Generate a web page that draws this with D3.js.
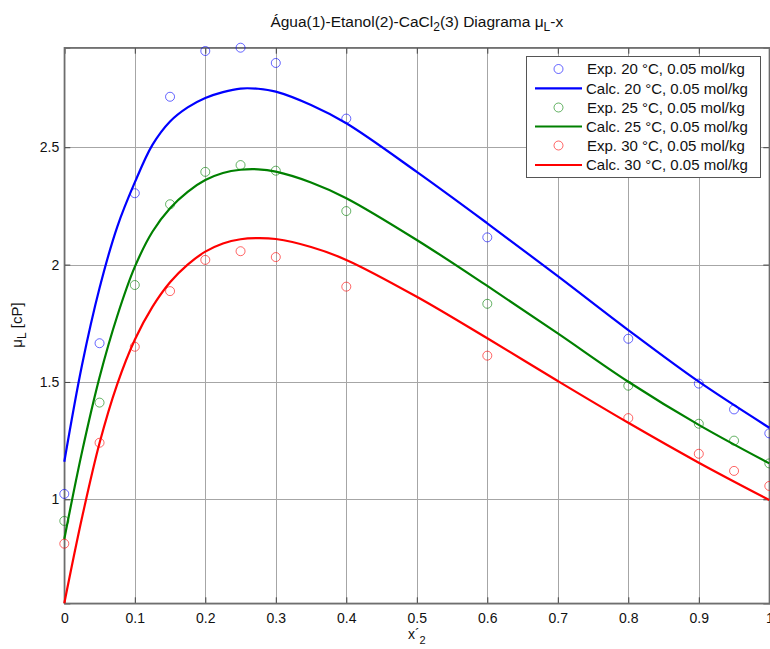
<!DOCTYPE html>
<html>
<head>
<meta charset="utf-8">
<script src="https://cdn.jsdelivr.net/npm/d3@7"></script>
<style>
  html, body { margin: 0; padding: 0; background: #fff; }
  svg { display: block; font-family: "Liberation Sans", Arial, Helvetica, sans-serif; }
</style>
</head>
<body>
<svg id="chart" width="770" height="649"></svg>
<script>
// Mole fractions of ethanol (salt-free basis) for the measured points
const expX = [0, 0.05, 0.1, 0.15, 0.2, 0.25, 0.3, 0.4, 0.6, 0.8, 0.9, 0.95, 1.0];
// Measured viscosities [cP]
const exp20 = [1.023, 1.665, 2.304, 2.715, 2.910, 2.924, 2.859, 2.622, 2.116, 1.684, 1.493, 1.383, 1.281];
const exp25 = [0.908, 1.412, 1.913, 2.257, 2.395, 2.424, 2.400, 2.228, 1.833, 1.484, 1.322, 1.250, 1.153];
const exp30 = [0.811, 1.241, 1.650, 1.887, 2.020, 2.057, 2.032, 1.906, 1.612, 1.346, 1.194, 1.121, 1.057];

// Model curves [x, mu]
const calc20 = [[0, 1.160], [0.025, 1.57], [0.05, 1.90], [0.075, 2.16], [0.1, 2.35], [0.125, 2.51], [0.15, 2.61],
  [0.175, 2.67], [0.2, 2.71], [0.225, 2.735], [0.25, 2.750], [0.275, 2.749], [0.3, 2.737], [0.35, 2.68],
  [0.4, 2.602], [0.5, 2.395], [0.6, 2.176], [0.7, 1.951], [0.8, 1.721], [0.9, 1.501], [1.0, 1.305]];
const calc25 = [[0, 0.831], [0.025, 1.20], [0.05, 1.52], [0.075, 1.78], [0.1, 1.99], [0.125, 2.14], [0.15, 2.24],
  [0.175, 2.31], [0.2, 2.36], [0.225, 2.39], [0.25, 2.404], [0.275, 2.406], [0.3, 2.396], [0.35, 2.35],
  [0.4, 2.283], [0.5, 2.105], [0.6, 1.909], [0.7, 1.707], [0.8, 1.501], [0.9, 1.317], [1.0, 1.153]];
const calc30 = [[0, 0.557], [0.025, 0.92], [0.05, 1.24], [0.075, 1.49], [0.1, 1.68], [0.125, 1.82], [0.15, 1.925],
  [0.175, 2.0], [0.2, 2.055], [0.225, 2.09], [0.25, 2.108], [0.275, 2.113], [0.3, 2.109], [0.35, 2.075],
  [0.4, 2.02], [0.5, 1.863], [0.6, 1.686], [0.7, 1.504], [0.8, 1.326], [0.9, 1.156], [1.0, 0.997]];

const xTicks = [0, 0.1, 0.2, 0.3, 0.4, 0.5, 0.6, 0.7, 0.8, 0.9, 1];
const yTicks = [1, 1.5, 2, 2.5];
const yDomain = [0.557, 2.924];

const series = [
  { exp: exp20, calc: calc20, color: "#0000ff", expLabel: "Exp. 20 °C, 0.05 mol/kg", calcLabel: "Calc. 20 °C, 0.05 mol/kg" },
  { exp: exp25, calc: calc25, color: "#008000", expLabel: "Exp. 25 °C, 0.05 mol/kg", calcLabel: "Calc. 25 °C, 0.05 mol/kg" },
  { exp: exp30, calc: calc30, color: "#ff0000", expLabel: "Exp. 30 °C, 0.05 mol/kg", calcLabel: "Calc. 30 °C, 0.05 mol/kg" }
];

const L = 64.3, R = 769.3, T = 47.7, B = 603.3;
const svg = d3.select("#chart");
const x = d3.scaleLinear().domain([0, 1]).range([L, R]);
const y = d3.scaleLinear().domain(yDomain).range([B, T]);

// grid
const grid = svg.append("g").attr("stroke", "#a6a6a6").attr("stroke-width", 1);
grid.selectAll("line.gx").data(xTicks).join("line")
  .attr("x1", d => Math.round(x(d)) + 0.5).attr("x2", d => Math.round(x(d)) + 0.5)
  .attr("y1", T).attr("y2", B);
grid.selectAll("line.gy").data(yTicks).join("line")
  .attr("x1", L).attr("x2", R)
  .attr("y1", d => Math.round(y(d)) + 0.5).attr("y2", d => Math.round(y(d)) + 0.5);

// axes with inward ticks
const tickLen = 6;
const fmt = d => d3.format("~g")(d);
const axB = svg.append("g").attr("transform", `translate(0,${B})`)
  .call(d3.axisBottom(x).tickValues(xTicks).tickFormat(fmt).tickSize(-tickLen).tickPadding(10));
const axT = svg.append("g").attr("transform", `translate(0,${T})`)
  .call(d3.axisTop(x).tickValues(xTicks).tickFormat("").tickSize(-tickLen));
const axLft = svg.append("g").attr("transform", `translate(${L},0)`)
  .call(d3.axisLeft(y).tickValues(yTicks).tickFormat(fmt).tickSize(-tickLen).tickPadding(5));
const axRgt = svg.append("g").attr("transform", `translate(${R},0)`)
  .call(d3.axisRight(y).tickValues(yTicks).tickFormat("").tickSize(-tickLen));
[axB, axT, axLft, axRgt].forEach(a => {
  a.select(".domain").attr("stroke", "#6e6e6e").attr("stroke-width", 1.3);
  a.selectAll(".tick line").attr("stroke", "#444");
  a.selectAll(".tick text").attr("fill", "#111").style("font-size", "14px").style("font-family", "Liberation Sans, Arial, sans-serif");
});
// full plot box
svg.append("rect").attr("x", L).attr("y", T).attr("width", R - L).attr("height", B - T)
  .attr("fill", "none").attr("stroke", "#6e6e6e").attr("stroke-width", 1.3);

// model curves
const line = d3.line().x(d => x(d[0])).y(d => y(d[1])).curve(d3.curveCatmullRom.alpha(0.5));
series.forEach(s => {
  svg.append("path").datum(s.calc).attr("d", line)
    .attr("fill", "none").attr("stroke", s.color).attr("stroke-width", 2.2);
});
// measured points
series.forEach(s => {
  svg.append("g").selectAll("circle").data(s.exp).join("circle")
    .attr("cx", (d, i) => x(expX[i])).attr("cy", d => y(d)).attr("r", 4.5)
    .attr("fill", "none").attr("stroke", s.color).attr("stroke-opacity", 0.6).attr("stroke-width", 1);
});

// legend
const lg = svg.append("g");
lg.append("rect").attr("x", 526.5).attr("y", 56.5).attr("width", 234).attr("height", 121)
  .attr("fill", "#fff").attr("stroke", "#555").attr("stroke-width", 1);
const rowY = [69, 88.3, 107.5, 126.5, 145.5, 165];
series.forEach((s, k) => {
  const y1 = rowY[2 * k], y2 = rowY[2 * k + 1];
  lg.append("circle").attr("cx", 558.5).attr("cy", y1).attr("r", 4.5)
    .attr("fill", "none").attr("stroke", s.color).attr("stroke-opacity", 0.6);
  lg.append("text").attr("x", 587).attr("y", y1).attr("dy", "0.36em")
    .style("font-size", "15px").attr("fill", "#111").text(s.expLabel);
  lg.append("line").attr("x1", 535).attr("x2", 582).attr("y1", y2).attr("y2", y2)
    .attr("stroke", s.color).attr("stroke-width", 2.2);
  lg.append("text").attr("x", 586).attr("y", y2).attr("dy", "0.36em")
    .style("font-size", "15px").attr("fill", "#111").text(s.calcLabel);
});

// title
const title = svg.append("text").attr("x", (L + R) / 2).attr("y", 27)
  .attr("text-anchor", "middle").style("font-size", "15.5px").attr("fill", "#111");
title.append("tspan").text("Água(1)-Etanol(2)-CaCl");
title.append("tspan").attr("dy", 4).style("font-size", "12px").text("2");
title.append("tspan").attr("dy", -4).text("(3) Diagrama μ");
title.append("tspan").attr("dy", 4).style("font-size", "12px").text("L");
title.append("tspan").attr("dy", -4).text("-x");

// x label
const xl = svg.append("text").attr("x", (L + R) / 2).attr("y", 639)
  .attr("text-anchor", "middle").style("font-size", "14px").attr("fill", "#111");
xl.append("tspan").text("x´");
xl.append("tspan").attr("dy", 5).style("font-size", "11px").text("2");

// y label
const yl = svg.append("text").attr("transform", `translate(22,325) rotate(-90)`)
  .attr("text-anchor", "middle").style("font-size", "15px").attr("fill", "#111");
yl.append("tspan").text("μ");
yl.append("tspan").attr("dy", 4).style("font-size", "12px").text("L");
yl.append("tspan").attr("dy", -4).text(" [cP]");
</script>
</body>
</html>
